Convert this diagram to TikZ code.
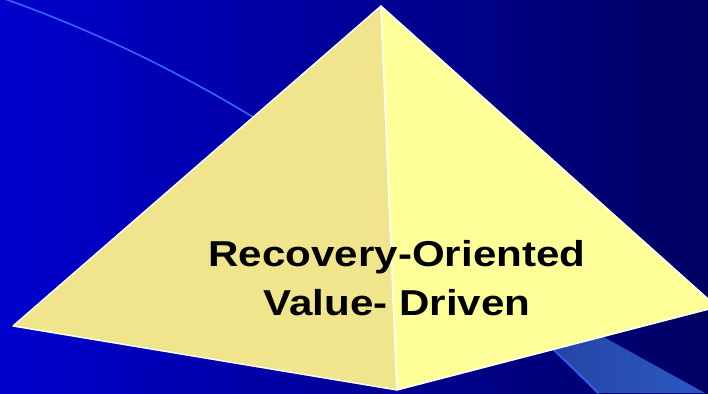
\documentclass[tikz,border=0pt]{standalone}
\usepackage{fontspec}
\setmainfont{Liberation Sans}
\definecolor{bgleft}{RGB}{0,0,206}
\definecolor{bgright}{RGB}{0,0,98}
\definecolor{bandleft}{RGB}{34,66,158}
\definecolor{bandright}{RGB}{44,88,196}
\definecolor{arcblue}{RGB}{51,102,255}
\definecolor{khakiface}{RGB}{240,228,140}
\definecolor{paleface}{RGB}{255,255,153}
\begin{document}
\begin{tikzpicture}[x=1pt,y=-1pt, line join=round, line cap=round,
	pyrface/.style={draw=white,line width=1.4pt},
	caption/.style={font=\bfseries\fontsize{36}{40}\selectfont,inner sep=0pt,anchor=base}]
	\useasboundingbox (0,0) rectangle (708,393);
	\clip (0,0) rectangle (708,393);
	\shade[left color=bgleft,right color=bgright] (0,0) rectangle (708,393);
	\path 
	(381,6)coordinate (T)
	(13,326)coordinate (L)
	(397,390)coordinate (B)
	(717,307)coordinate (R)
	(5,-1)coordinate (arcstart)
	(598,393)coordinate (arcend)
	;
	% band behind the pyramid
	\shade[left color=bandleft,right color=bandright]
		(520,315)--(560,313)--(705,393)--(arcend)--cycle;
	\draw[arcblue,line width=1.6pt] (arcstart) .. controls (205,70) and (398,193) .. (arcend);
	% the two faces
	\draw[pyrface,fill=khakiface] (T)--(L)--(B)--cycle;
	\draw[pyrface,fill=paleface] (T)--(B)--(R)--cycle;
	\node[caption] (recovery) at (397,266) {\scalebox{1.17}[1]{Recovery-Oriented}};
	\node[caption] (value) at (397,315) {\scalebox{1.17}[1]{Value- Driven}};
\end{tikzpicture}
\end{document}
